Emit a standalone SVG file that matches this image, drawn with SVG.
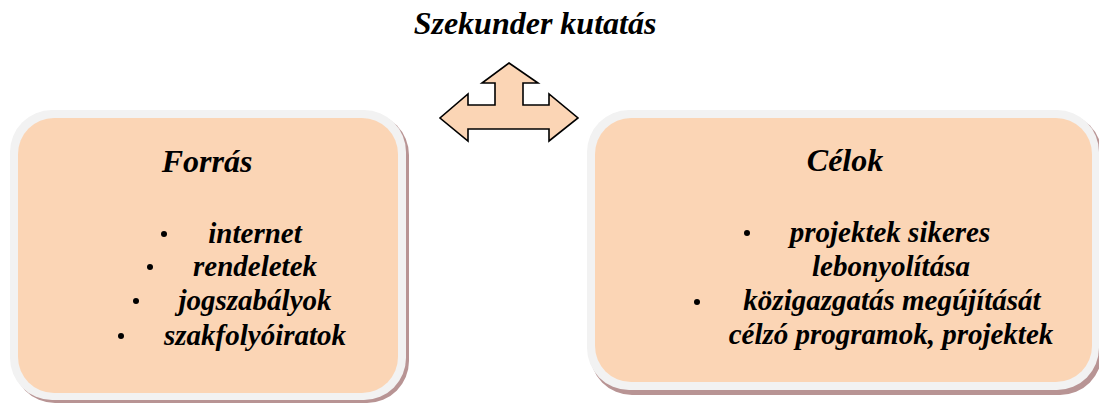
<svg xmlns="http://www.w3.org/2000/svg" width="1099" height="405" viewBox="0 0 1099 405">
<defs>
<rect id="unused" width="0" height="0"/>
</defs>
<rect width="1099" height="405" fill="#fff"/>
<text x="535" y="34" font-family="Liberation Serif" font-weight="bold" font-style="italic" font-size="32" text-anchor="middle">Szekunder kutatás</text>
<g id="connectors">
<polygon points="509,63 538,83 523,83 523,105 549,105 549,94 578,118 549,141 549,129 468,129 468,141 440,118 468,94 468,105 495,105 495,83 482,83" fill="#fbd5b5" stroke="#000" stroke-width="1.6" stroke-linejoin="miter"/>
</g>
<g id="forras">
<rect fill="#b89494" x="13" y="113" width="396" height="290" rx="42"/>
<rect fill="#f2f2f2" x="10" y="110" width="396" height="290" rx="42"/>
<rect fill="#fbd5b5" x="18" y="118" width="380" height="275" rx="36"/>
<text x="207" y="172" font-family="Liberation Serif" font-weight="bold" font-style="italic" font-size="32" text-anchor="middle">Forrás</text>
<circle cx="164" cy="234" r="3"/>
<text x="255" y="243" font-family="Liberation Serif" font-weight="bold" font-style="italic" font-size="29" text-anchor="middle">internet</text>
<circle cx="150" cy="267" r="3"/>
<text x="255" y="276" font-family="Liberation Serif" font-weight="bold" font-style="italic" font-size="29" text-anchor="middle">rendeletek</text>
<circle cx="136" cy="301" r="3"/>
<text x="255" y="310" font-family="Liberation Serif" font-weight="bold" font-style="italic" font-size="29" text-anchor="middle">jogszabályok</text>
<circle cx="121" cy="336" r="3"/>
<text x="255" y="345" font-family="Liberation Serif" font-weight="bold" font-style="italic" font-size="29" text-anchor="middle">szakfolyóiratok</text>
</g>
<g id="celok">
<rect fill="#b89494" x="590" y="113" width="512" height="282" rx="42"/>
<rect fill="#f2f2f2" x="587" y="110" width="512" height="280" rx="42"/>
<rect fill="#fbd5b5" x="595" y="118" width="497" height="264" rx="36"/>
<text x="845" y="171" font-family="Liberation Serif" font-weight="bold" font-style="italic" font-size="32" text-anchor="middle">Célok</text>
<circle cx="747" cy="233" r="3"/>
<text x="890" y="242" font-family="Liberation Serif" font-weight="bold" font-style="italic" font-size="29" text-anchor="middle">projektek sikeres</text>
<text x="891" y="276" font-family="Liberation Serif" font-weight="bold" font-style="italic" font-size="29" text-anchor="middle">lebonyolítása</text>
<circle cx="697" cy="302" r="3"/>
<text x="892" y="310" font-family="Liberation Serif" font-weight="bold" font-style="italic" font-size="29" text-anchor="middle">közigazgatás megújítását</text>
<text x="891" y="344" font-family="Liberation Serif" font-weight="bold" font-style="italic" font-size="29" text-anchor="middle">célzó programok, projektek</text>
</g>
</svg>
